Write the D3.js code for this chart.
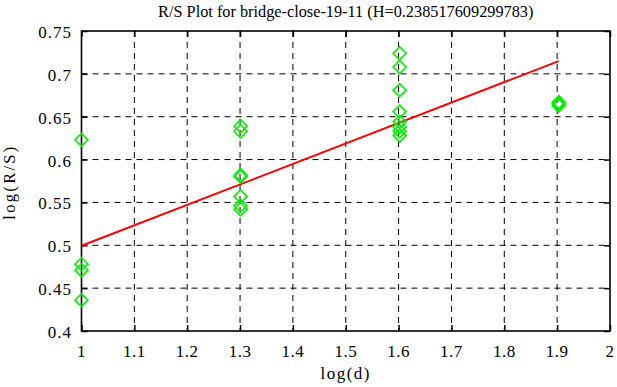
<!DOCTYPE html>
<html>
<head>
<meta charset="utf-8">
<script src="https://cdn.jsdelivr.net/npm/d3@7"></script>
<style>
  body { margin: 0; background: #fff; }
</style>
</head>
<body>
<div id="chart"></div>
<script>
// data
var pointsX = [1, 1, 1, 1,
  1.301, 1.301, 1.301, 1.301, 1.301, 1.301, 1.301,
  1.602, 1.602, 1.602, 1.602, 1.602, 1.602, 1.602, 1.602,
  1.903, 1.903, 1.903];
var pointsY = [0.623, 0.478, 0.471, 0.436,
  0.639, 0.633, 0.582, 0.580, 0.557, 0.546, 0.542,
  0.724, 0.708, 0.681, 0.656, 0.644, 0.638, 0.633, 0.628,
  0.667, 0.665, 0.663];
var fitX = [1, 1.903];
var fitY = [0.4995, 0.7149];
var xTicks = [1, 1.1, 1.2, 1.3, 1.4, 1.5, 1.6, 1.7, 1.8, 1.9, 2];
var yTicks = [0.4, 0.45, 0.5, 0.55, 0.6, 0.65, 0.7, 0.75];

var W = 617, H = 387;
var FONT = "'Liberation Serif', 'Times New Roman', 'DejaVu Serif', serif";
var margin = {top: 31, right: 7, bottom: 56, left: 81.5},
  width = W - margin.left - margin.right,
  height = H - margin.top - margin.bottom;

var svg = d3.select("#chart")
.append("svg")
  .attr("width", W)
  .attr("height", H)
.append("g")
  .attr("transform", "translate(" + margin.left + "," + margin.top + ")");

var x = d3.scaleLinear().domain([1, 2]).range([0, width]);
var y = d3.scaleLinear().domain([0.4, 0.75]).range([height, 0]);

// grid
svg.selectAll(".gx")
  .data(xTicks.slice(1, -1))
  .enter().append("line")
    .attr("x1", d => x(d)).attr("x2", d => x(d))
    .attr("y1", 0).attr("y2", height)
    .attr("stroke", "black").attr("stroke-width", 1)
    .attr("stroke-dasharray", "6,5");
svg.selectAll(".gy")
  .data(yTicks.slice(1, -1))
  .enter().append("line")
    .attr("y1", d => y(d)).attr("y2", d => y(d))
    .attr("x1", 0).attr("x2", width)
    .attr("stroke", "black").attr("stroke-width", 1)
    .attr("stroke-dasharray", "6,5");

// axes (ticks inward on all sides)
var tk = 6;
svg.append("g").attr("transform", "translate(0," + height + ")")
  .call(d3.axisTop(x).tickValues(xTicks).tickSize(tk).tickFormat(""));
svg.append("g")
  .call(d3.axisBottom(x).tickValues(xTicks).tickSize(tk).tickFormat(""));
svg.append("g")
  .call(d3.axisRight(y).tickValues(yTicks).tickSize(tk).tickFormat(""));
svg.append("g").attr("transform", "translate(" + width + ",0)")
  .call(d3.axisLeft(y).tickValues(yTicks).tickSize(tk).tickFormat(""));
svg.selectAll(".domain").remove();
svg.selectAll(".tick line").attr("stroke", "black").attr("stroke-width", 1.5);

svg.append("rect")
  .attr("width", width).attr("height", height)
  .attr("fill", "none").attr("stroke", "black").attr("stroke-width", 1.6);

// tick labels
svg.selectAll(".xl")
  .data(xTicks)
  .enter().append("text")
    .attr("x", d => x(d)).attr("y", height + 26)
    .attr("text-anchor", "middle")
    .attr("font-family", FONT).attr("font-size", "17px")
    .attr("letter-spacing", "0.5px")
    .text(d => d3.format("")(d));
svg.selectAll(".yl")
  .data(yTicks)
  .enter().append("text")
    .attr("x", -9.5).attr("y", d => y(d) + 7)
    .attr("text-anchor", "end")
    .attr("font-family", FONT).attr("font-size", "17px")
    .attr("letter-spacing", "1px")
    .text(d => d3.format("")(d));

// fit line
svg.append("path")
  .datum(d3.zip(fitX, fitY))
  .attr("d", d3.line().x(d => x(d[0])).y(d => y(d[1])))
  .attr("stroke", "#ff0000").attr("stroke-width", 2).attr("fill", "none");

// points as diamonds
var r = 6.5;
svg.selectAll(".pt")
  .data(d3.zip(pointsX, pointsY))
  .enter().append("path")
    .attr("transform", d => "translate(" + x(d[0]) + "," + y(d[1]) + ")")
    .attr("d", "M0," + (-r) + "L" + r + ",0L0," + r + "L" + (-r) + ",0Z")
    .attr("fill", "none").attr("stroke", "#00ee00").attr("stroke-width", 1.6);

// titles
svg.append("text")
  .attr("x", width / 2).attr("y", -14)
  .attr("text-anchor", "middle")
  .attr("font-family", FONT).attr("font-size", "16.3px")
  .text("R/S Plot for bridge-close-19-11 (H=0.238517609299783)");
svg.append("text")
  .attr("x", width / 2).attr("y", height + 48)
  .attr("text-anchor", "middle")
  .attr("font-family", FONT).attr("font-size", "17px")
  .attr("letter-spacing", "1.5px")
  .text("log(d)");
svg.append("text")
  .attr("transform", "translate(" + (-66.5) + "," + (height / 2 + 1) + ") rotate(-90)")
  .attr("text-anchor", "middle")
  .attr("font-family", FONT).attr("font-size", "16.5px")
  .attr("letter-spacing", "2.3px")
  .text("log(R/S)");
</script>
</body>
</html>
